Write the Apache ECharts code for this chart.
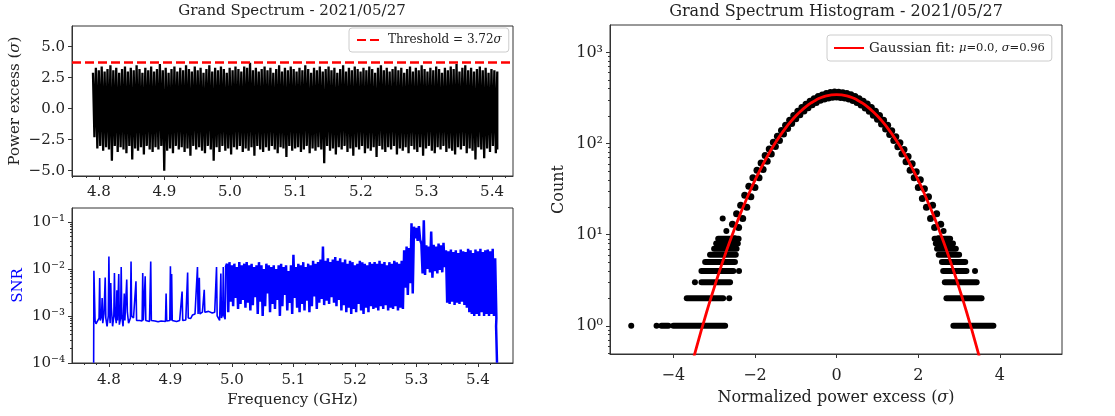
<!DOCTYPE html>
<html><head><meta charset="utf-8">
<script src="https://cdn.jsdelivr.net/npm/echarts@6/dist/echarts.min.js"></script>
<style>html,body{margin:0;padding:0;background:#fff}#c{width:1115px;height:416px}</style>
</head><body><div id="c"></div>
<script>
// ---------------- DATA ----------------
// Grand spectrum (power excess, sigma): upper and lower envelope of the dense trace
const specFreqStart = 4.791, specFreqEnd = 5.408;
const specHi = [
 2.9,3.3,3.1,3.4,3.0,3.2,3.5,3.1,3.3,2.9,
 3.2,3.4,3.0,3.3,3.1,3.5,3.2,2.9,3.3,3.1,
 3.4,3.0,3.2,3.6,3.1,3.3,2.9,3.2,3.4,3.0,
 3.3,3.1,3.5,3.2,3.0,3.4,3.1,3.3,2.9,3.2,
 3.5,3.0,3.3,3.1,3.4,3.2,2.9,3.3,3.1,3.4,
 3.2,3.0,3.4,3.3,3.7,3.1,3.3,3.0,3.2,3.4,
 3.1,3.3,2.9,3.2,3.5,3.0,3.3,3.1,3.4,3.2,
 3.0,3.3,3.1,3.5,3.2,2.9,3.3,3.1,3.4,3.0,
 3.2,3.4,3.1,3.3,2.9,3.2,3.5,3.0,3.3,3.1,
 3.4,3.2,3.0,3.3,3.1,3.4,3.2,2.9,3.3,3.5,
 3.1,3.3,3.0,3.2,3.4,3.1,3.3,2.9,3.2,3.4,
 3.0,3.3,3.1,3.5,3.2,3.0,3.3,3.1,3.4,3.2,
 2.9,3.3,3.1,3.4,3.2,3.6,3.0,3.3,3.5,3.1,
 3.3,3.0,3.2,3.4,3.1,3.3,2.9,3.2,3.1,3.0];
const specLo = [
 -2.3,-3.2,-3.0,-3.4,-3.1,-3.3,-4.2,-3.0,-3.5,-3.1,
 -3.3,-3.6,-3.0,-4.1,-3.2,-3.4,-3.1,-3.7,-3.0,-3.3,
 -3.5,-3.1,-3.3,-3.0,-5.0,-3.4,-3.2,-3.6,-3.0,-3.3,
 -3.1,-3.5,-3.2,-3.8,-3.0,-3.3,-3.1,-3.4,-3.6,-3.0,
 -3.3,-4.2,-3.1,-3.5,-3.0,-3.4,-3.2,-3.7,-3.1,-3.3,
 -3.0,-3.5,-3.2,-3.4,-3.1,-3.8,-3.0,-3.3,-3.5,-3.1,
 -3.4,-3.0,-3.3,-3.6,-3.1,-3.2,-3.9,-3.0,-3.4,-3.2,
 -3.1,-3.5,-3.3,-3.0,-3.6,-3.2,-3.4,-3.1,-3.3,-4.4,
 -3.0,-3.4,-3.2,-3.7,-3.1,-3.3,-3.0,-3.5,-3.2,-3.8,
 -3.1,-3.3,-3.0,-3.6,-3.2,-3.4,-3.1,-3.9,-3.0,-3.3,
 -3.5,-3.1,-3.3,-3.0,-3.7,-3.2,-3.4,-3.1,-3.6,-3.0,
 -3.3,-3.5,-3.1,-3.8,-3.2,-3.0,-3.4,-3.6,-3.1,-3.3,
 -3.0,-3.5,-3.2,-3.4,-3.7,-3.1,-3.3,-3.0,-3.6,-3.2,
 -3.4,-4.1,-3.1,-3.3,-4.0,-3.2,-3.5,-3.0,-3.6,-3.3];
const thresholdSigma = 3.72;

// SNR: sparse part (frequency GHz, SNR)
const snrSparseF = [4.7752,4.7756,4.7775,4.779,4.782,4.784,4.785,4.786,4.788,4.789,4.790,4.792,4.794,4.795,4.797,4.799,4.800,4.801,4.802,4.803,4.804,4.806,4.808,4.809,4.810,4.812,4.813,4.814,4.816,4.817,4.819,4.820,4.821,4.823,4.825,4.826,4.829,4.830,4.832,4.835,4.836,4.837,4.840,4.843,4.844,4.845,4.850,4.854,4.855,4.856,4.858,4.859,4.860,4.866,4.868,4.869,4.875,4.880,4.885,4.892,4.893,4.894,4.899,4.900,4.901,4.902,4.903,4.910,4.915,4.918,4.919,4.920,4.925,4.927,4.928,4.929,4.933,4.936,4.940,4.943,4.944,4.945,4.946,4.947,4.948,4.952,4.955,4.956,4.962,4.968,4.972,4.974,4.975,4.976,4.980,4.982,4.983,4.985,4.986,4.987,4.989,4.990];
const snrSparseV = [0.0001,0.0092,0.0008,0.00068,0.0007,0.0009,0.0064,0.0008,0.001,0.0024,0.0007,0.0011,0.0066,0.0009,0.0006,0.001,0.0185,0.0012,0.0007,0.005,0.0015,0.0006,0.001,0.0082,0.0011,0.0007,0.0035,0.0008,0.0078,0.00065,0.0009,0.011,0.001,0.0006,0.003,0.0008,0.006,0.0012,0.0007,0.0009,0.0145,0.001,0.0009,0.00085,0.0055,0.0008,0.0008,0.00078,0.0082,0.0008,0.00085,0.007,0.0008,0.00076,0.0145,0.0008,0.00078,0.00075,0.00078,0.00076,0.003,0.00078,0.0008,0.0115,0.0008,0.0078,0.0008,0.00076,0.0008,0.00078,0.0033,0.0008,0.00082,0.00085,0.0084,0.0009,0.00088,0.00105,0.0011,0.00105,0.011,0.0011,0.0012,0.0065,0.0011,0.0012,0.0036,0.0012,0.00125,0.00115,0.0012,0.0011,0.011,0.001,0.0008,0.008,0.0009,0.0011,0.011,0.001,0.00085,0.011];
// SNR: dense part, upper / lower envelope every 4 MHz from 4.992 GHz
const snrDenseStart = 4.992, snrDenseStep = 0.004;
const snrDenseHi = [
 0.013,0.014,0.012,0.013,0.011,0.014,0.012,0.013,0.014,0.012,
 0.013,0.011,0.012,0.014,0.012,0.010,0.013,0.012,0.011,0.012,
 0.010,0.012,0.013,0.011,0.012,0.009,0.012,0.020,0.011,0.013,
 0.012,0.014,0.011,0.013,0.012,0.015,0.013,0.014,0.016,0.030,
 0.015,0.017,0.014,0.016,0.018,0.015,0.017,0.014,0.016,0.013,
 0.015,0.014,0.012,0.013,0.015,0.014,0.013,0.012,0.014,0.013,
 0.014,0.013,0.015,0.013,0.014,0.012,0.014,0.013,0.015,0.014,0.013,0.015,
 0.025,0.030,0.028,0.095,
 0.080,0.075,0.082,
 0.035,0.110,0.032,0.030,0.063,0.033,0.030,0.035,0.032,0.036,
 0.025,0.024,0.026,0.023,0.025,0.022,0.026,0.024,0.023,0.027,0.025,0.022,0.026,0.024,0.027,0.023,0.025,0.026,0.024,0.027,0.017];
const snrDenseLo = [
 0.0012,0.0020,0.0016,0.0024,0.0014,0.0018,0.0022,0.0015,0.0019,0.0013,
 0.0017,0.0025,0.0011,0.0020,0.0010,0.0016,0.0030,0.0012,0.0018,0.0014,
 0.0022,0.0010,0.0016,0.0028,0.0013,0.0019,0.0011,0.0024,0.0015,0.0012,
 0.0018,0.0013,0.0021,0.0012,0.0016,0.0026,0.0014,0.0019,0.0023,0.0017,
 0.0021,0.0018,0.0025,0.0019,0.0016,0.0022,0.0013,0.0017,0.0012,0.0015,
 0.0011,0.0014,0.0012,0.0018,0.0013,0.0011,0.0015,0.0012,0.0016,0.0014,
 0.0015,0.0013,0.0016,0.0014,0.0017,0.0013,0.0015,0.0014,0.0016,0.0013,0.0015,0.0014,
 0.0040,0.0028,0.0050,0.0030,
 0.045,0.040,0.042,
 0.008,0.0075,0.010,0.0085,0.0065,0.009,0.0080,0.0095,0.0085,0.011,
 0.0019,0.0018,0.0020,0.0017,0.0019,0.0018,0.0020,0.0017,0.0015,0.0012,0.0011,0.0010,0.0011,0.0010,0.0012,0.0010,0.0011,0.0010,0.0011,0.0010,0.0009];
const snrTailF = [5.4295, 5.431];
const snrTailV = [0.0006, 0.0001];

// Histogram: bins of 0.05 sigma from -2.55, counts
const histStart = -2.55, histBin = 0.05;
const histCounts = [
 13,9,17,12,21,15,27,20,34,26,42,33,51,42,61,52,74,64,87,77,103,93,120,108,139,127,159,146,180,166,203,187,226,207,248,228,270,247,291,266,310,283,328,298,342,308,355,317,363,322,368,
 325,366,321,362,316,354,308,343,296,329,282,311,265,292,246,271,226,249,205,226,185,203,164,180,144,159,126,138,108,119,92,102,77,86,63,72,51,60,42,49,33,40,25,32,20,26,15,21,12,17,9,13];
// Histogram tails: rows of low integer counts (count, from, to)
const histRowCount = [1,1,2,3,4,5,6,7,8,9, 1,2,3,4,5,6,7,8,9];
const histRowFrom  = [-4.0,-4.29,-3.67,-3.31,-3.31,-3.22,-3.10,-3.00,-2.95,-2.90, 2.86,2.69,2.65,2.61,2.58,2.50,2.46,2.43,2.40];
const histRowTo    = [-2.73,-4.12,-2.78,-2.61,-2.53,-2.49,-2.47,-2.45,-2.42,-2.40, 3.84,3.55,3.43,3.18,3.15,3.00,2.92,2.85,2.78];
const histDotX = [-5.03,-4.41,-2.63,-3.47,-2.39,-2.79,-2.70,3.39,2.62];
const histDotY = [1,1,2,3,4,15,11,4,11];

// Gaussian fit curve (mu=0.0, sigma=0.96)
const gaussX = [-3.625,-3.5,-3.375,-3.25,-3.125,-3.0,-2.875,-2.75,-2.625,-2.5,-2.375,-2.25,-2.125,-2.0,-1.875,-1.75,-1.625,-1.5,-1.375,-1.25,-1.125,-1.0,-0.875,-0.75,-0.625,-0.5,-0.375,-0.25,-0.125,0,
 0.125,0.25,0.375,0.5,0.625,0.75,0.875,1.0,1.125,1.25,1.375,1.5,1.625,1.75,1.875,2.0,2.125,2.25,2.375,2.5,2.625,2.75,2.875,3.0,3.125,3.25,3.375,3.5,3.625];
const gaussY = [0.2764,0.448,0.7145,1.12,1.725,2.61,3.89,5.70,8.21,11.6,16.17,22.1,29.8,39.4,51.2,65.5,82.3,101.8,123.7,147.8,173.6,200.5,227.7,254.3,279.1,301.3,319.7,333.5,342.1,345,
 342.1,333.5,319.7,301.3,279.1,254.3,227.7,200.5,173.6,147.8,123.7,101.8,82.3,65.5,51.2,39.4,29.8,22.1,16.17,11.6,8.21,5.70,3.89,2.61,1.725,1.12,0.7145,0.448,0.2764];

// tick labels
const topXTicks = [4.8,4.9,5.0,5.1,5.2,5.3,5.4];
const topYTicks = [-5,-2.5,0,2.5,5];
const snrYTicks = [1e-4,1e-3,1e-2,1e-1];
const histXTicks = [-4,-2,0,2,4];
const histYTicks = [1,10,100,1000];

// ---------------- BUILD ----------------
const FONT = 'DejaVu Serif';
const TXT = '#222';
const AX = '#333';
const SUP = {'0':'⁰','1':'¹','2':'²','3':'³','4':'⁴','5':'⁵','6':'⁶','7':'⁷','8':'⁸','9':'⁹','-':'⁻'};
function logLabel(v){ const e = Math.round(Math.log10(v)); return '10' + String(e).split('').map(c=>SUP[c]).join(''); }
function minus(s){ return String(s).replace('-', '\u2212'); }

const specData = [];
const sStep = (specFreqEnd - specFreqStart) / (specHi.length - 1);
for (let i = 0; i < specHi.length; i++) {
  specData.push([specFreqStart + i * sStep, specHi[i]]);
  if (i < specHi.length - 1) specData.push([specFreqStart + (i + 0.5) * sStep, specLo[i]]);
  else specData.push([specFreqStart + i * sStep, specLo[i]]);
}

const snrSparse = [];
for (let i = 0; i < snrSparseF.length; i++) snrSparse.push([snrSparseF[i], snrSparseV[i]]);
const snrDense = [snrSparse[snrSparse.length - 1]];
const nD = Math.min(snrDenseHi.length, snrDenseLo.length);
for (let i = 0; i < nD; i++) {
  snrDense.push([snrDenseStart + i * snrDenseStep, snrDenseHi[i]]);
  snrDense.push([snrDenseStart + (i + 0.5) * snrDenseStep, snrDenseLo[i]]);
}
for (let i = 0; i < snrTailF.length; i++) snrDense.push([snrTailF[i], snrTailV[i]]);

const histData = histCounts.map((c, i) => [histStart + i * histBin, c]);
const histDots = histDotX.map((x, i) => [x, histDotY[i]]);
const gaussData = gaussX.map((x, i) => [x, gaussY[i]]);

// minor tick positions (layout only)
const minorX = [];
for (let k = 238; k <= 271; k++) { if (k % 5 !== 0) minorX.push(k * 0.02); }
function logMinor(lo, hi){ const r=[]; for (let e=-5;e<=4;e++) for (let m=2;m<=9;m++){ const v=m*Math.pow(10,e); if (v>lo && v<hi) r.push(v);} return r; }

const labelStyle = (size) => ({ fontFamily: FONT, fontSize: size, color: TXT });

const chart = echarts.init(document.getElementById('c'), null, { renderer: 'canvas' });

const series = [
  { type: 'line', name: 'spectrum', xAxisIndex: 0, yAxisIndex: 0, data: specData, symbol: 'none',
    lineStyle: { color: '#000', width: 2.3, join: 'bevel' }, itemStyle: { color: '#000' }, z: 2, clip: true },
  { type: 'line', name: 'Threshold = 3.72σ', xAxisIndex: 0, yAxisIndex: 0, data: [], symbol: 'none',
    itemStyle: { color: '#ff0000' }, lineStyle: { color: '#ff0000', width: 2.5, type: [9, 4] },
    markLine: { silent: true, symbol: ['none', 'none'], label: { show: false },
      lineStyle: { color: '#ff0000', width: 2.5, type: [9, 4] }, data: [{ yAxis: thresholdSigma }] }, z: 5 },
  { type: 'line', name: 'snrSparse', xAxisIndex: 1, yAxisIndex: 1, data: snrSparse, symbol: 'none',
    lineStyle: { color: '#0000ff', width: 1.6, join: 'bevel' }, itemStyle: { color: '#0000ff' }, clip: true },
  { type: 'line', name: 'snrDense', xAxisIndex: 1, yAxisIndex: 1, data: snrDense, symbol: 'none',
    lineStyle: { color: '#0000ff', width: 2.5, join: 'bevel' }, itemStyle: { color: '#0000ff' }, clip: true },
  { type: 'scatter', name: 'hist', xAxisIndex: 2, yAxisIndex: 2, data: histData, symbolSize: 7,
    itemStyle: { color: '#000', opacity: 1 }, z: 3 },
  { type: 'scatter', name: 'histdots', xAxisIndex: 2, yAxisIndex: 2, data: histDots, symbolSize: 6,
    itemStyle: { color: '#000', opacity: 1 }, z: 3 }
];
for (let i = 0; i < histRowCount.length; i++) {
  series.push({ type: 'line', xAxisIndex: 2, yAxisIndex: 2, symbol: 'none', z: 3,
    data: [[histRowFrom[i], histRowCount[i]], [histRowTo[i], histRowCount[i]]],
    lineStyle: { color: '#000', width: 6, cap: 'round' } });
}
series.push({ type: 'line', name: 'Gaussian fit: μ=0.0, σ=0.96', xAxisIndex: 2, yAxisIndex: 2, data: gaussData,
  symbol: 'none', smooth: true, lineStyle: { color: '#ff0000', width: 2.8 }, itemStyle: { color: '#ff0000' }, z: 10, clip: true });

const legendBase = {
  orient: 'horizontal', backgroundColor: '#fff', borderColor: '#cccccc', borderWidth: 1, borderRadius: 3,
  selectedMode: false, itemGap: 5, itemStyle: { opacity: 0 }
};

const option = {
  animation: false,
  backgroundColor: '#fff',
  graphic: [
    { type: 'text', x: 292, y: 11, style: { text: 'Grand Spectrum - 2021/05/27', font: '15px "DejaVu Serif"', fill: TXT, align: 'center', verticalAlign: 'middle' } },
    { type: 'text', x: 836, y: 12, style: { text: 'Grand Spectrum Histogram - 2021/05/27', font: '16px "DejaVu Serif"', fill: TXT, align: 'center', verticalAlign: 'middle' } }
  ],
  legend: [
    Object.assign({}, legendBase, { data: ['Threshold = 3.72σ'], left: 349, top: 28, padding: [6, 7, 6, 7],
      itemWidth: 26, itemHeight: 12,
      formatter: () => 'Threshold = 3.72{i|σ}',
      textStyle: { fontFamily: FONT, fontSize: 12, color: TXT, rich: { i: { fontFamily: FONT, fontSize: 12, fontStyle: 'italic', color: TXT } } } }),
    Object.assign({}, legendBase, { data: ['Gaussian fit: μ=0.0, σ=0.96'], left: 827, top: 35, padding: [6, 7, 6, 6],
      itemWidth: 30, itemHeight: 14,
      formatter: () => 'Gaussian fit: {g|μ}{m|=0.0, }{g|σ}{m|=0.96}',
      textStyle: { fontFamily: FONT, fontSize: 13.5, color: TXT, rich: {
        g: { fontFamily: FONT, fontSize: 11.5, fontStyle: 'italic', color: TXT },
        m: { fontFamily: FONT, fontSize: 11.5, color: TXT } } } })
  ],
  grid: [
    { left: 72, top: 26, width: 441, height: 150, show: true, borderColor: AX, borderWidth: 1, backgroundColor: 'transparent' },
    { left: 72, top: 208, width: 441, height: 155, show: true, borderColor: AX, borderWidth: 1, backgroundColor: 'transparent' },
    { left: 610, top: 25, width: 452, height: 329, show: true, borderColor: AX, borderWidth: 1, backgroundColor: 'transparent' }
  ],
  xAxis: [
    { gridIndex: 0, type: 'value', position: 'bottom', min: 4.759, max: 5.432, splitLine: { show: false },
      axisLine: { show: true, onZero: false, lineStyle: { color: AX } },
      axisTick: { show: true, length: 4, customValues: topXTicks, lineStyle: { color: AX } },
      axisLabel: Object.assign({ customValues: topXTicks, margin: 9, formatter: v => v.toFixed(1) }, labelStyle(15)) },
    { gridIndex: 1, type: 'value', position: 'bottom', min: 4.740, max: 5.457, splitLine: { show: false },
      axisLine: { show: true, onZero: false, lineStyle: { color: AX } },
      axisTick: { show: true, length: 4, customValues: topXTicks, lineStyle: { color: AX } },
      axisLabel: Object.assign({ customValues: topXTicks, margin: 10, formatter: v => v.toFixed(1) }, labelStyle(15)),
      name: 'Frequency (GHz)', nameLocation: 'middle', nameGap: 30, nameTextStyle: labelStyle(15) },
    { gridIndex: 2, type: 'value', position: 'bottom', min: -5.55, max: 5.52, splitLine: { show: false },
      axisLine: { show: true, onZero: false, lineStyle: { color: AX } },
      axisTick: { show: true, length: 4, customValues: histXTicks, lineStyle: { color: AX } },
      axisLabel: Object.assign({ customValues: histXTicks, margin: 14, formatter: v => minus(v) }, labelStyle(16)),
      name: 'Normalized power excess ({i|σ})', nameLocation: 'middle', nameGap: 36,
      nameTextStyle: Object.assign({ rich: { i: { fontFamily: FONT, fontSize: 16, fontStyle: 'italic', color: TXT } } }, labelStyle(16)) },
    { gridIndex: 0, type: 'value', position: 'bottom', min: 4.759, max: 5.432, splitLine: { show: false },
      axisLine: { show: false, onZero: false }, axisLabel: { show: false },
      axisTick: { show: true, length: 2, customValues: minorX, lineStyle: { color: AX } } },
    { gridIndex: 1, type: 'value', position: 'bottom', min: 4.740, max: 5.457, splitLine: { show: false },
      axisLine: { show: false, onZero: false }, axisLabel: { show: false },
      axisTick: { show: true, length: 2, customValues: minorX, lineStyle: { color: AX } } }
  ],
  yAxis: [
    { gridIndex: 0, type: 'value', position: 'left', min: -5.43, max: 6.67, splitLine: { show: false },
      axisLine: { show: true, onZero: false, lineStyle: { color: AX } },
      axisTick: { show: true, length: 4, customValues: topYTicks, lineStyle: { color: AX } },
      axisLabel: Object.assign({ customValues: topYTicks, margin: 7, formatter: v => minus(v.toFixed(1)) }, labelStyle(15)),
      name: 'Power excess ({i|σ})', nameLocation: 'middle', nameGap: 49,
      nameTextStyle: Object.assign({ rich: { i: { fontFamily: FONT, fontSize: 15, fontStyle: 'italic', color: TXT } } }, labelStyle(15)) },
    { gridIndex: 1, type: 'log', logBase: 10, position: 'left', min: 0.99e-4, max: 0.2, splitLine: { show: false },
      axisLine: { show: true, onZero: false, lineStyle: { color: AX } },
      axisTick: { show: true, length: 4, customValues: snrYTicks, lineStyle: { color: AX } },
      axisLabel: Object.assign({ customValues: snrYTicks, margin: 7, formatter: v => logLabel(v) }, labelStyle(15)),
      name: 'SNR', nameLocation: 'middle', nameGap: 46, nameTextStyle: { fontFamily: FONT, fontSize: 15, color: '#0000ff' } },
    { gridIndex: 2, type: 'log', logBase: 10, position: 'left', min: 0.49, max: 2000, splitLine: { show: false },
      axisLine: { show: true, onZero: false, lineStyle: { color: AX } },
      axisTick: { show: true, length: 4, customValues: histYTicks, lineStyle: { color: AX } },
      axisLabel: Object.assign({ customValues: histYTicks, margin: 7, formatter: v => logLabel(v) }, labelStyle(16)),
      name: 'Count', nameLocation: 'middle', nameGap: 43, nameTextStyle: labelStyle(16) },
    { gridIndex: 1, type: 'log', logBase: 10, position: 'left', min: 0.99e-4, max: 0.2, splitLine: { show: false },
      axisLine: { show: false, onZero: false }, axisLabel: { show: false },
      axisTick: { show: true, length: 2, customValues: logMinor(0.99e-4, 0.2), lineStyle: { color: AX } } },
    { gridIndex: 2, type: 'log', logBase: 10, position: 'left', min: 0.49, max: 2000, splitLine: { show: false },
      axisLine: { show: false, onZero: false }, axisLabel: { show: false },
      axisTick: { show: true, length: 2, customValues: logMinor(0.49, 2000), lineStyle: { color: AX } } }
  ],
  series: series
};
chart.setOption(option);
</script>
</body></html>
